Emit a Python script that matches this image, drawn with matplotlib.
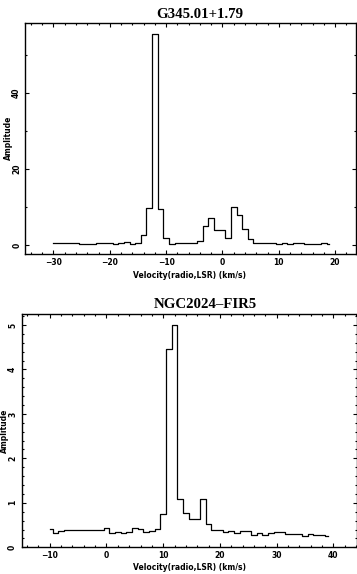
import numpy as np
import matplotlib
matplotlib.use('Agg')
import matplotlib.pyplot as plt
from matplotlib.ticker import MultipleLocator

# channel grids (km/s) - 1 km/s channels
vel_g345 = np.arange(-30, 20)
amp_g345 = [0.5, 0.5, 0.5, 0.5, 0.5, 0.2, 0.2, 0.2, 0.5, 0.5,
            0.5, 0.25, 0.5, 0.8, 0.25, 0.5, 2.6, 9.6, 55.6, 9.4,
            1.8, 0.2, 0.5, 0.5, 0.5, 0.5, 1.0, 5.0, 7.1, 3.9,
            3.9, 1.8, 10.0, 7.9, 4.2, 1.5, 0.5, 0.5, 0.5, 0.5,
            0.25, 0.5, 0.25, 0.5, 0.5, 0.25, 0.25, 0.25, 0.5, 0.25]

vel_ngc = np.arange(-10, 40)
amp_ngc = [0.41, 0.32, 0.36, 0.39, 0.39, 0.39, 0.39, 0.39, 0.39, 0.39,
           0.44, 0.32, 0.355, 0.33, 0.355, 0.44, 0.41, 0.35, 0.37, 0.41,
           0.76, 4.47, 5.0, 1.09, 0.775, 0.64, 0.64, 1.09, 0.53, 0.38,
           0.38, 0.35, 0.37, 0.33, 0.37, 0.37, 0.28, 0.33, 0.28, 0.33,
           0.35, 0.35, 0.31, 0.29, 0.31, 0.26, 0.30, 0.28, 0.28, 0.26]

titles = ['G345.01+1.79', 'NGC2024\u2013FIR5']
xlabel = 'Velocity(radio,LSR) (km/s)'
ylabel = 'Amplitude'

W, H = 357, 574
fig = plt.figure(figsize=(W / 100, H / 100), dpi=100)


def px_axes(left, top, right, bottom):
    return fig.add_axes([left / W, 1 - bottom / H, (right - left) / W, (bottom - top) / H])


def style(ax, xmaj, xmin, ymaj, ymin, ypad):
    for s in ax.spines.values():
        s.set_linewidth(1.0)
    ax.xaxis.set_major_locator(MultipleLocator(xmaj))
    ax.xaxis.set_minor_locator(MultipleLocator(xmin))
    ax.yaxis.set_major_locator(MultipleLocator(ymaj))
    ax.yaxis.set_minor_locator(MultipleLocator(ymin))
    ax.tick_params(which='both', direction='in', top=True, right=True, width=0.8)
    ax.tick_params(which='major', length=3)
    ax.tick_params(which='minor', length=1.6)
    ax.tick_params(axis='x', labelsize=5.5, pad=3.0)
    ax.tick_params(axis='y', labelsize=5.5, pad=ypad, labelrotation=90)
    for lab in ax.get_xticklabels() + ax.get_yticklabels():
        lab.set_fontweight('bold')
    for lab in ax.get_yticklabels():
        lab.set_va('center')


# top spectrum
ax1 = px_axes(25.3, 23.3, 356.5, 254)
ax1.step(vel_g345, amp_g345, where='mid', color='k', lw=0.9)
ax1.set_xlim(-35, 23.8)
ax1.set_ylim(-2.4, 58.3)
style(ax1, 10, 2, 20, 10, 3.0)
ax1.set_xlabel(xlabel, fontsize=5.5, fontweight='bold')
ax1.xaxis.set_label_coords(0.497, -0.094)
ax1.xaxis.label.set_va('center')
ax1.set_ylabel(ylabel, fontsize=5.5, fontweight='bold')
ax1.yaxis.set_label_coords(-0.052, 0.505)
ax1.yaxis.label.set_va('center')
fig.text(200 / W, 1 - 15 / H, titles[0], ha='center', va='center',
         family='Liberation Serif', fontweight='bold', fontsize=10.7)

# bottom spectrum
ax2 = px_axes(22.3, 314.3, 356.5, 547.3)
ax2.step(vel_ngc, amp_ngc, where='mid', color='k', lw=0.9)
ax2.set_xlim(-14.85, 44.1)
ax2.set_ylim(0.0, 5.24)
style(ax2, 10, 2, 1, 0.2, 3.8)
ax2.set_xlabel(xlabel, fontsize=5.5, fontweight='bold')
ax2.xaxis.set_label_coords(0.50, -0.087)
ax2.xaxis.label.set_va('center')
ax2.set_ylabel(ylabel, fontsize=5.5, fontweight='bold')
ax2.yaxis.set_label_coords(-0.052, 0.50)
ax2.yaxis.label.set_va('center')
fig.text(205 / W, 1 - 305 / H, titles[1], ha='center', va='center',
         family='Liberation Serif', fontweight='bold', fontsize=10.7)

fig.savefig('out.png', dpi=100)
